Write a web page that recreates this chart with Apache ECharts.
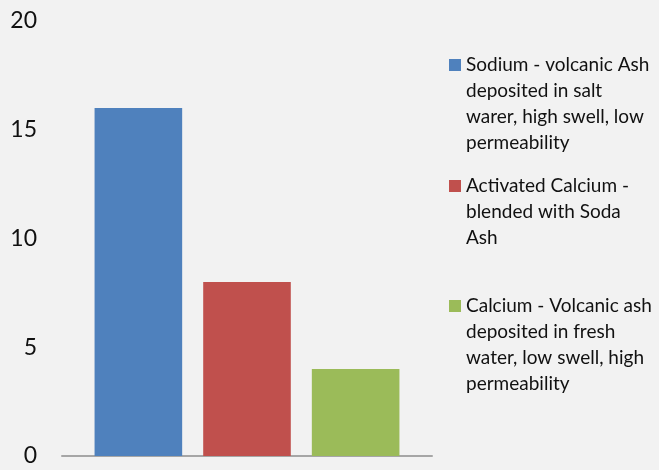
<!DOCTYPE html>
<html>
<head>
<meta charset="utf-8">
<script src="https://cdn.jsdelivr.net/npm/echarts@6/dist/echarts.min.js"></script>
<style>
html,body{margin:0;padding:0;background:#f2f2f2;}
#chart{width:659px;height:470px;}
</style>
</head>
<body>
<div id="chart"></div>
<script>
const categories = [''];
const seriesNames = [
  'Sodium - volcanic Ash\ndeposited in salt\nwarer, high swell, low\npermeability',
  'Activated Calcium -\nblended with Soda\nAsh',
  'Calcium - Volcanic ash\ndeposited in fresh\nwater, low swell, high\npermeability'
];
const sodiumValues = [16];
const activatedCalciumValues = [8];
const calciumValues = [4];
const yTicks = [0, 5, 10, 15, 20];

const colors = ['#4f81bd', '#c0504d', '#9bbb59'];
const seriesValues = [sodiumValues, activatedCalciumValues, calciumValues];
const FONT = 'Lato';
const LH = 26;

const chart = echarts.init(document.getElementById('chart'), null, {renderer: 'canvas'});

// first-line centres of the legend entries (px)
const legendCenters = [65, 186, 306];
const legends = seriesNames.map((name, i) => {
  const n = name.split('\n').length;
  // pad with empty lines above so the icon (centred on the block) sits on the first line
  const pad = '\n'.repeat(n - 1);
  const boxH = (2 * n - 1) * LH;
  return {
    data: [name],
    left: 449,
    top: legendCenters[i] - boxH / 2,
    orient: 'vertical',
    padding: 0,
    itemWidth: 12,
    itemHeight: 12,
    icon: 'rect',
    selectedMode: false,
    formatter: (nm) => pad + nm,
    textStyle: {
      fontFamily: FONT,
      fontSize: 19,
      color: '#111',
      lineHeight: LH
    }
  };
});

chart.setOption({
  backgroundColor: '#f2f2f2',
  animation: false,
  legend: legends,
  grid: {left: 62, right: 227, top: 21, bottom: 14, containLabel: false},
  xAxis: {
    type: 'category',
    data: categories,
    axisLine: {show: true, lineStyle: {color: '#a6a6a6', width: 2}},
    axisTick: {show: false},
    axisLabel: {show: false},
    splitLine: {show: false}
  },
  yAxis: {
    type: 'value',
    min: yTicks[0],
    max: yTicks[yTicks.length - 1],
    interval: yTicks[1] - yTicks[0],
    axisLine: {show: false},
    axisTick: {show: false},
    splitLine: {show: false},
    axisLabel: {
      margin: 25,
      fontFamily: FONT,
      fontSize: 23,
      color: '#111'
    }
  },
  series: seriesNames.map((name, i) => ({
    name: name,
    type: 'bar',
    data: seriesValues[i],
    barGap: '24%',
    barCategoryGap: '17.6%',
    itemStyle: {color: colors[i]}
  }))
});
</script>
</body>
</html>
